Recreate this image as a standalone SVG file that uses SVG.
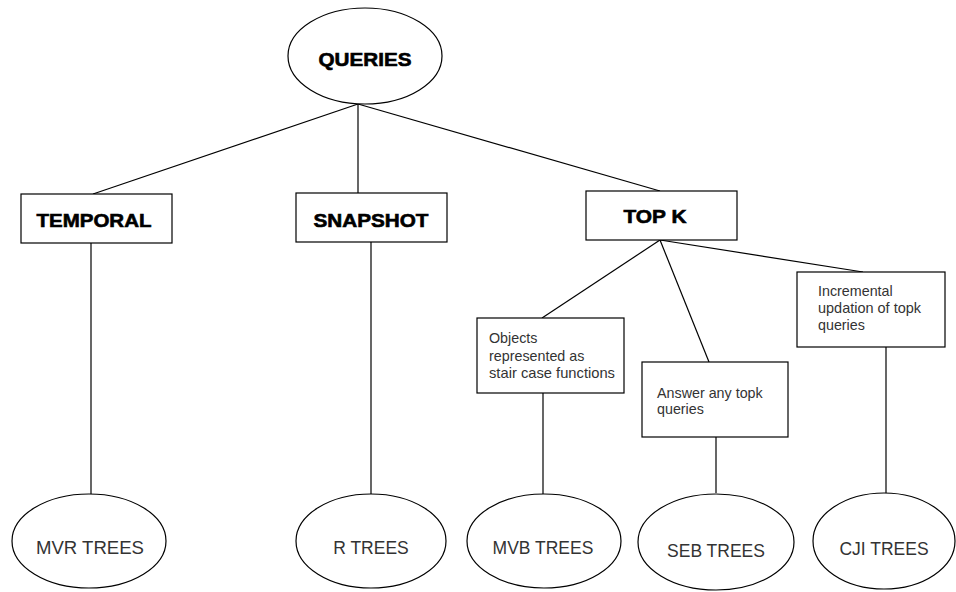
<svg xmlns="http://www.w3.org/2000/svg" width="956" height="592" viewBox="0 0 956 592">
<style>
.shape{fill:#fff;stroke:#000;stroke-width:1.2}
.conn line{stroke:#000;stroke-width:1.2}
.title{font-family:"Liberation Sans",Arial,sans-serif;font-weight:bold;font-size:18.5px;fill:#000;stroke:#000;stroke-width:0.6;text-anchor:middle}
.leaf{font-family:"Liberation Sans",Arial,sans-serif;font-size:17.5px;fill:#333;text-anchor:middle}
.note{font-family:"Liberation Sans",Arial,sans-serif;font-size:14.3px;fill:#333}
</style>
<rect width="956" height="592" fill="#fff"/>
<g id="connectors" class="conn">
<line x1="358" y1="104" x2="93" y2="194"/>
<line x1="358" y1="104" x2="358" y2="193"/>
<line x1="358" y1="104" x2="660" y2="191"/>
<line x1="91" y1="243" x2="91" y2="494"/>
<line x1="371" y1="242" x2="371" y2="494"/>
<line x1="660" y1="240" x2="542" y2="318"/>
<line x1="660" y1="240" x2="709" y2="362"/>
<line x1="660" y1="240" x2="863" y2="272"/>
<line x1="543" y1="393" x2="543" y2="494"/>
<line x1="716" y1="437" x2="716" y2="493"/>
<line x1="886" y1="347" x2="886" y2="493"/>
</g>
<g id="queries">
<ellipse class="shape" cx="365" cy="56" rx="77" ry="48"/>
<text class="title" x="365" y="66" textLength="93" lengthAdjust="spacingAndGlyphs">QUERIES</text>
</g>
<g id="temporal">
<rect class="shape" x="21" y="194" width="151" height="49"/>
<text class="title" x="94" y="227" textLength="115" lengthAdjust="spacingAndGlyphs">TEMPORAL</text>
</g>
<g id="snapshot">
<rect class="shape" x="296" y="193" width="151" height="49"/>
<text class="title" x="371" y="227" textLength="115" lengthAdjust="spacingAndGlyphs">SNAPSHOT</text>
</g>
<g id="topk">
<rect class="shape" x="586" y="191" width="151" height="49"/>
<text class="title" x="655" y="223" textLength="63" lengthAdjust="spacingAndGlyphs">TOP K</text>
</g>
<g id="objects">
<rect class="shape" x="477" y="318" width="147" height="75"/>
<text class="note" x="489" y="343">Objects</text>
<text class="note" x="489" y="361">represented as</text>
<text class="note" x="489" y="378" textLength="126" lengthAdjust="spacingAndGlyphs">stair case functions</text>
</g>
<g id="answer">
<rect class="shape" x="642" y="362" width="146" height="75"/>
<text class="note" x="657" y="398">Answer any topk</text>
<text class="note" x="657" y="414">queries</text>
</g>
<g id="incremental">
<rect class="shape" x="797" y="272" width="148" height="75"/>
<text class="note" x="818" y="296">Incremental</text>
<text class="note" x="818" y="313" textLength="103" lengthAdjust="spacingAndGlyphs">updation of topk</text>
<text class="note" x="818" y="330">queries</text>
</g>
<g id="mvr">
<ellipse class="shape" cx="89" cy="541" rx="77" ry="47"/>
<text class="leaf" x="90" y="554" textLength="108" lengthAdjust="spacingAndGlyphs">MVR TREES</text>
</g>
<g id="rtrees">
<ellipse class="shape" cx="371" cy="541" rx="75" ry="47"/>
<text class="leaf" x="371" y="554">R TREES</text>
</g>
<g id="mvb">
<ellipse class="shape" cx="544" cy="541" rx="77" ry="47"/>
<text class="leaf" x="543" y="554">MVB TREES</text>
</g>
<g id="seb">
<ellipse class="shape" cx="716" cy="542" rx="78" ry="48"/>
<text class="leaf" x="716" y="557">SEB TREES</text>
</g>
<g id="cji">
<ellipse class="shape" cx="884" cy="541" rx="71" ry="48"/>
<text class="leaf" x="884" y="555">CJI TREES</text>
</g>
</svg>
